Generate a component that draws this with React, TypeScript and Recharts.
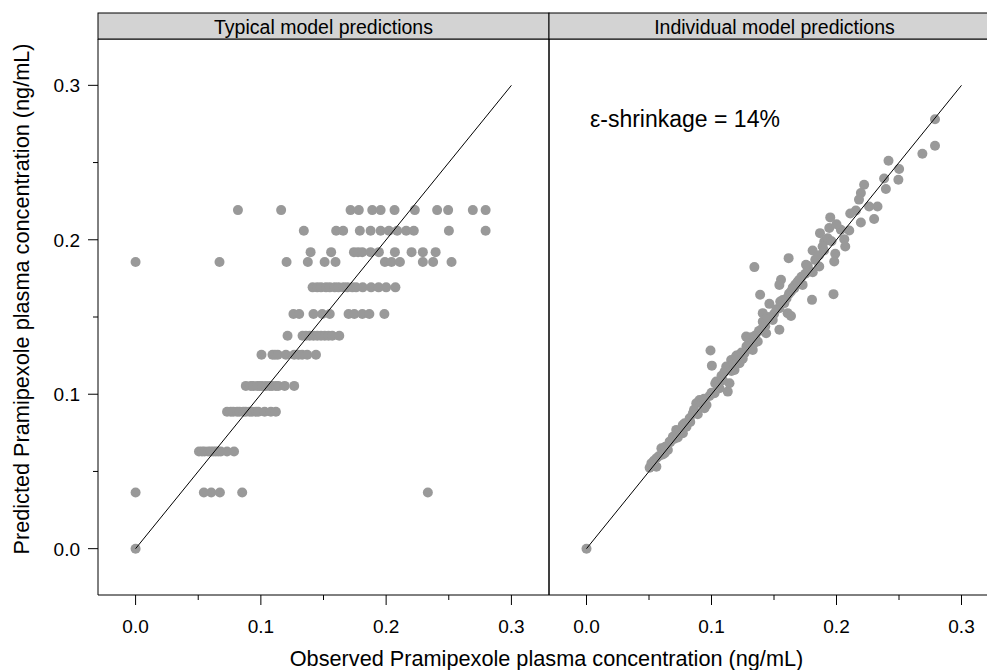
import React from 'react';
import { ScatterChart, Scatter, XAxis, YAxis, ReferenceArea } from 'recharts';

// axis setup
const DOMAIN: [number, number] = [-0.03, 0.33];
const AXIS_TICKS = [0, 0.05, 0.1, 0.15, 0.2, 0.25, 0.3];
const MAJOR_TICKS = [0, 0.1, 0.2, 0.3];
const PANEL_TITLES = ['Typical model predictions', 'Individual model predictions'];
const X_TITLE = 'Observed Pramipexole plasma concentration (ng/mL)';
const Y_TITLE = 'Predicted Pramipexole plasma concentration (ng/mL)';
const SHRINKAGE = 'ε-shrinkage = 14%';

// typical (population) predictions come in discrete levels
const typicalPred = [0.2192, 0.2058, 0.192, 0.1856, 0.1692, 0.1519, 0.1379, 0.1256, 0.1054, 0.0886, 0.0629, 0.0364, 0];
const typicalObs: number[][] = [
  [0.0817, 0.1162, 0.1716, 0.1782, 0.1889, 0.1956, 0.2067, 0.2229, 0.2407, 0.2495, 0.2692, 0.2794],
  [0.1343, 0.1601, 0.1657, 0.179, 0.1876, 0.1956, 0.2022, 0.2088, 0.216, 0.2221, 0.2501, 0.2794],
  [0.1397, 0.1561, 0.1743, 0.1776, 0.1809, 0.1876, 0.1942, 0.207, 0.2203, 0.2293, 0.2395],
  [0, 0.067, 0.1205, 0.1375, 0.1509, 0.1596, 0.199, 0.2043, 0.211, 0.2293, 0.2375, 0.2522],
  [0.1413, 0.145, 0.148, 0.152, 0.155, 0.159, 0.162, 0.166, 0.169, 0.173, 0.176, 0.1813, 0.188, 0.194, 0.2, 0.2074],
  [0.126, 0.1306, 0.142, 0.149, 0.155, 0.17, 0.1746, 0.181, 0.1866, 0.1986],
  [0.1213, 0.1333, 0.136, 0.139, 0.142, 0.145, 0.148, 0.151, 0.154, 0.157, 0.1626],
  [0.1005, 0.1093, 0.1113, 0.1135, 0.12, 0.1266, 0.13, 0.133, 0.137, 0.144],
  [0.088, 0.092, 0.094, 0.097, 0.099, 0.101, 0.104, 0.107, 0.109, 0.112, 0.114, 0.119, 0.1266],
  [0.073, 0.076, 0.078, 0.081, 0.083, 0.086, 0.088, 0.091, 0.093, 0.096, 0.098, 0.103, 0.108, 0.112],
  [0.0506, 0.053, 0.055, 0.058, 0.06, 0.062, 0.064, 0.066, 0.068, 0.073, 0.0786],
  [0, 0.0545, 0.0604, 0.0673, 0.0851, 0.2333],
  [0],
];

// individual predictions vs observations
const individualObs = [
  0, 0.2788, 0.2788, 0.2687, 0.2416, 0.2501, 0.2495, 0.2381, 0.2395, 0.2221, 0.2195, 0.2328, 0.2261, 0.2155,
  0.2301, 0.2195, 0.195, 0.1942, 0.2035, 0.2102, 0.1868, 0.2062, 0.207, 0.1902, 0.1889, 0.1809, 0.199, 0.1982,
  0.1617, 0.1756, 0.1782, 0.1343, 0.1862, 0.1556, 0.1543, 0.1703, 0.1729, 0.1663, 0.1636, 0.1804, 0.1976, 0.1389,
  0.1463, 0.1583, 0.1543, 0.1609, 0.1636, 0.141, 0.141, 0.149, 0.1543, 0.1437, 0.1277, 0.1317, 0.137, 0.133,
  0.1264, 0.0992, 0.1003, 0.1197, 0.1157, 0.1224, 0.1118, 0.1184, 0.1104, 0.1038, 0.1144, 0.1064, 0.113, 0.1024,
  0.0984, 0.0904, 0.0878, 0.0944, 0.0851, 0.0825, 0.0785, 0.0771, 0.0718, 0.0691, 0.0665, 0.0599, 0.0651, 0.0625,
  0.0559, 0.0519, 0.0559, 0.0505, 0.058, 0.063, 0.07, 0.074, 0.08, 0.086, 0.092, 0.096, 0.105, 0.108, 0.117,
  0.121, 0.125, 0.13, 0.135, 0.14, 0.145, 0.15, 0.157, 0.162, 0.167, 0.172, 0.177, 0.183, 0.186, 0.193, 0.2,
  0.211, 0.218, 0.054, 0.061, 0.067, 0.073, 0.077, 0.083, 0.089, 0.094, 0.1, 0.103, 0.109, 0.112, 0.116, 0.12,
  0.124, 0.128, 0.134, 0.138, 0.143, 0.147, 0.152, 0.155, 0.16, 0.165, 0.169, 0.175, 0.181, 0.19, 0.196,
];
const individualPred = [
  0, 0.278, 0.2609, 0.2557, 0.2512, 0.2458, 0.2389, 0.2397, 0.2329, 0.2356, 0.2303, 0.2216, 0.2216, 0.219,
  0.2134, 0.2112, 0.2145, 0.2076, 0.2065, 0.206, 0.2043, 0.2004, 0.1957, 0.1989, 0.1957, 0.1931, 0.1909, 0.1859,
  0.1881, 0.1838, 0.1795, 0.1823, 0.1827, 0.1741, 0.1708, 0.1741, 0.1708, 0.1687, 0.1665, 0.1611, 0.1648, 0.1644,
  0.1585, 0.159, 0.1557, 0.1525, 0.1507, 0.1525, 0.147, 0.1481, 0.1417, 0.1395, 0.1373, 0.1369, 0.1341, 0.1287,
  0.1266, 0.1283, 0.1185, 0.1244, 0.1222, 0.1201, 0.1179, 0.1157, 0.1146, 0.1082, 0.1071, 0.1039, 0.1017, 0.1006,
  0.0989, 0.0963, 0.0942, 0.0909, 0.0877, 0.0844, 0.0812, 0.0747, 0.0769, 0.0725, 0.0693, 0.065, 0.0639, 0.0618,
  0.0585, 0.0553, 0.0531, 0.0524, 0.06, 0.066, 0.071, 0.076, 0.079, 0.09, 0.094, 0.093, 0.105, 0.112, 0.119,
  0.125, 0.123, 0.133, 0.138, 0.142, 0.15, 0.152, 0.161, 0.165, 0.171, 0.176, 0.183, 0.187, 0.19, 0.201, 0.21,
  0.217, 0.226, 0.057, 0.061, 0.069, 0.072, 0.08, 0.082, 0.087, 0.097, 0.101, 0.107, 0.109, 0.116, 0.115, 0.125,
  0.127, 0.131, 0.133, 0.141, 0.144, 0.149, 0.155, 0.16, 0.162, 0.169, 0.173, 0.178, 0.179, 0.193, 0.199,
];

const identityLine = [{ obs: 0, pred: 0 }, { obs: 0.3, pred: 0.3 }];

const typicalData = typicalPred.flatMap((pred, i) => typicalObs[i].map((obs) => ({ obs, pred })));
const individualData = individualObs.map((obs, i) => ({ obs, pred: individualPred[i] }));

const FONT = '"Liberation Sans", Arial, Helvetica, sans-serif';
const isMajor = (v: number) => MAJOR_TICKS.some((t) => Math.abs(t - v) < 1e-9);

const XTick = (props: any) => {
  const { x, y, payload } = props;
  const major = isMajor(payload.value);
  return (
    <g>
      <line x1={x} x2={x} y1={y} y2={y + (major ? 10 : 5)} stroke="#000" />
      {major && (
        <text x={x} y={y + 38} textAnchor="middle" fontSize={19} fontFamily={FONT} fill="#000">
          {payload.value.toFixed(1)}
        </text>
      )}
    </g>
  );
};

const YTick = (props: any) => {
  const { x, y, payload } = props;
  const major = isMajor(payload.value);
  return (
    <g>
      <line x1={x} x2={x - (major ? 10 : 5)} y1={y} y2={y} stroke="#000" />
      {major && (
        <text x={x - 18} y={y + 7} textAnchor="end" fontSize={19} fontFamily={FONT} fill="#000">
          {payload.value.toFixed(1)}
        </text>
      )}
    </g>
  );
};

const Dot = (p: any) => <circle cx={p.cx} cy={p.cy} r={5} fill="#999999" />;
const NoDot = () => <g />;

function Panel({ data, showY }: { data: { obs: number; pred: number }[]; showY: boolean }) {
  return (
    <ScatterChart
      width={showY ? 560 : 471}
      height={670}
      margin={{ top: 39, right: 11, bottom: 0, left: showY ? 0 : 10 }}
    >
      <XAxis
        type="number"
        dataKey="obs"
        domain={DOMAIN}
        ticks={AXIS_TICKS}
        interval={0}
        allowDataOverflow
        axisLine={false}
        tickLine={false}
        tickSize={0}
        tickMargin={0}
        height={75}
        tick={<XTick />}
      />
      <YAxis
        type="number"
        dataKey="pred"
        domain={DOMAIN}
        ticks={AXIS_TICKS}
        interval={0}
        allowDataOverflow
        axisLine={false}
        tickLine={false}
        tickSize={0}
        tickMargin={0}
        width={showY ? 98 : 0}
        hide={!showY}
        tick={<YTick />}
      />
      <ReferenceArea x1={DOMAIN[0]} x2={DOMAIN[1]} y1={DOMAIN[0]} y2={DOMAIN[1]} fill="none" stroke="#000" strokeWidth={1} />
      <Scatter data={data} shape={Dot} isAnimationActive={false} />
      <Scatter data={identityLine} line={{ stroke: '#000', strokeWidth: 1 }} shape={NoDot} isAnimationActive={false} />
    </ScatterChart>
  );
}

export default function App() {
  return (
    <div style={{ position: 'absolute', left: 0, top: 0, width: 987, height: 670, overflow: 'hidden', background: '#fff' }}>
      <div style={{ position: 'absolute', left: 0, top: 0 }}>
        <Panel data={typicalData} showY />
      </div>
      <div style={{ position: 'absolute', left: 539, top: 0 }}>
        <Panel data={individualData} showY={false} />
      </div>
      <svg width={987} height={670} style={{ position: 'absolute', left: 0, top: 0, pointerEvents: 'none' }} fontFamily={FONT}>
        {PANEL_TITLES.map((title, i) => (
          <g key={title}>
            <rect x={98 + i * 451} y={13} width={451} height={26} fill="#d3d3d3" stroke="#000" />
            <text x={323.5 + i * 451} y={34} textAnchor="middle" fontSize={19.5} fill="#000">
              {title}
            </text>
          </g>
        ))}
        <text x={590} y={127} fontSize={23} fill="#000">
          {SHRINKAGE}
        </text>
        <text x={546.5} y={666} textAnchor="middle" fontSize={21.7} fill="#000">
          {X_TITLE}
        </text>
        <text x={0} y={0} transform="translate(29,299) rotate(-90)" textAnchor="middle" fontSize={21.7} fill="#000">
          {Y_TITLE}
        </text>
      </svg>
    </div>
  );
}
